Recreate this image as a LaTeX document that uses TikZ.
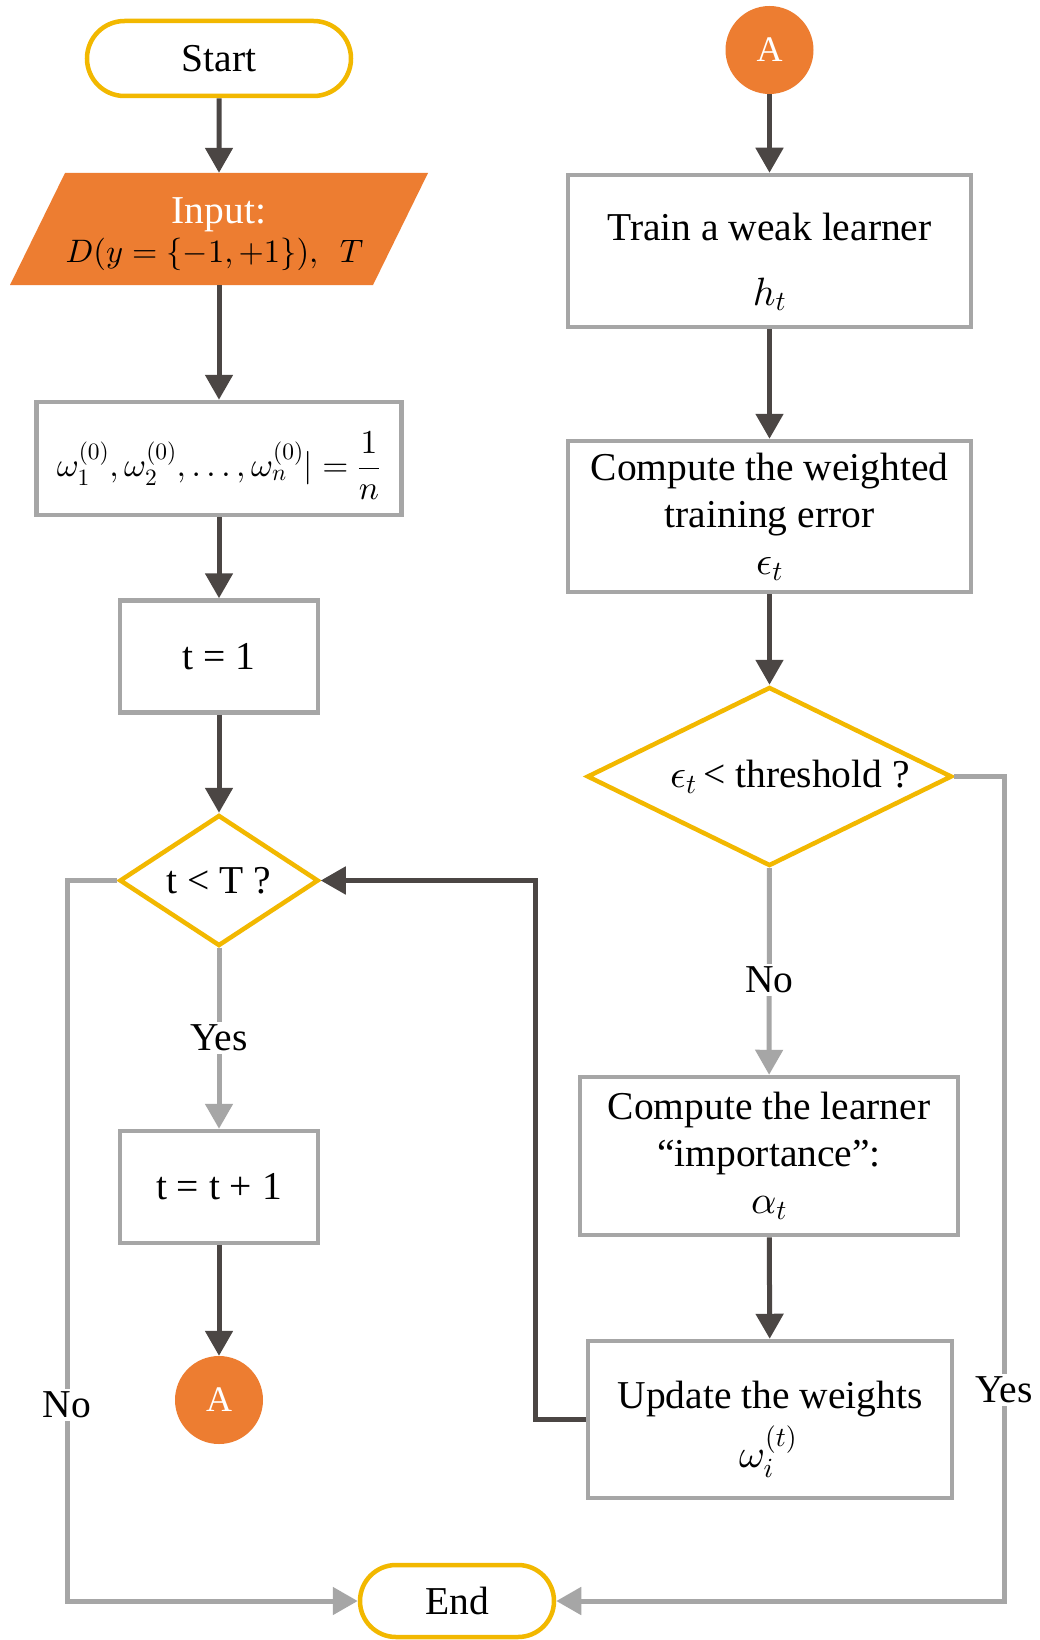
\documentclass[tikz,border=0pt]{standalone}
\usepackage{fontspec}
\setmainfont{Liberation Serif}
\DeclareFontShape{OT1}{cmr}{m}{n}{<->cmr10}{}
\DeclareFontShape{OML}{cmm}{m}{it}{<->cmmi10}{}
\DeclareFontShape{OMS}{cmsy}{m}{n}{<->cmsy10}{}
\DeclareFontShape{OMX}{cmex}{m}{n}{<->cmex10}{}
\usetikzlibrary{arrows.meta,shapes.geometric,shapes.misc}
\definecolor{dk}{HTML}{4B4644}
\definecolor{gr}{HTML}{A6A6A6}
\definecolor{gd}{HTML}{F2B800}
\definecolor{orn}{HTML}{ED7D31}
\begin{document}
\begin{tikzpicture}[x=1pt,y=-1pt,
  font=\fontsize{39.5}{47}\selectfont,
  lw/.style={line width=4.5pt},
  procbox/.style={rectangle,draw=gr,lw,fill=white,inner sep=0pt,align=center},
  term/.style={rounded rectangle,draw=gd,lw,fill=white,inner sep=0pt},
  decis/.style={diamond,draw=gd,lw,fill=white,inner sep=0pt},
  conn/.style={circle,fill=orn,text=white,inner sep=0pt,minimum size=88pt,font=\fontsize{36}{40}\selectfont},
  darr/.style={draw=dk,line width=5pt,-{Triangle[length=25pt,width=27pt]}},
  garr/.style={draw=gr,line width=5pt,-{Triangle[length=25pt,width=27pt]}},
  lab/.style={fill=white,inner sep=3pt},
  txt/.style={inner sep=0pt,align=center},
  btxt/.style={inner sep=0pt,anchor=base},
]
\useasboundingbox (0,0) rectangle (1039,1640);
\fill[white] (0,0) rectangle (1039,1640);

% left column
\node[term,minimum width=264pt,minimum height=75pt] (start) at (219,58.5) {Start};
\fill[orn] (65,173) -- (428,173) -- (373,285) -- (10,285) -- cycle;
\node[inner sep=0pt,minimum width=250pt,minimum height=112pt] (input) at (219,229) {};
\node[btxt,text=white] (inputL) at (219,223) {Input:};
\node[btxt,font=\fontsize{32.5}{40}\selectfont] (inputM) at (214.5,262) {$D(y=\{-1,+1\}),\ \ T$};
\node[procbox,minimum width=365pt,minimum height=113pt] (init) at (219,458.5) {};
\node[txt,font=\fontsize{33.5}{40}\selectfont] (initM) at (218.5,466)
  {$\omega_1^{(0)},\omega_2^{(0)},\ldots,\omega_n^{(0)}|={\displaystyle\frac{1}{n}}$};
\node[procbox,minimum width=198pt,minimum height=112pt] (t1) at (219,656.5) {t = 1};
\node[decis,minimum width=199pt,minimum height=131pt] (dec1) at (219,880.5) {};
\node[txt] (dec1t) at (219,880.5) {t < T ?};
\node[procbox,minimum width=198pt,minimum height=112pt] (inc) at (219,1187) {t = t + 1};
\node[conn] (A2) at (219,1400) {A};
\node[term,minimum width=194pt,minimum height=72pt] (end) at (457,1601) {End};

% right column
\node[conn] (A1) at (769.5,50) {A};
\node[procbox,minimum width=403pt,minimum height=152pt] (train) at (769.5,251) {};
\node[btxt] (trainL) at (769.5,240) {Train a weak learner};
\node[btxt] (trainH) at (769.5,305) {$h_t$};
\node[procbox,minimum width=403pt,minimum height=151pt] (err) at (769.5,516.5)
  {Compute the weighted\\ training error\\ $\epsilon_t$};
\node[decis,minimum width=365pt,minimum height=179pt] (dec2) at (769.5,776.5) {};
\node[txt] (dec2t) at (790,777) {$\epsilon_t$\,< threshold ?};
\node[procbox,minimum width=378pt,minimum height=158pt] (imp) at (769,1156)
  {Compute the learner\\ “importance”:\\ $\alpha_t$};
\node[procbox,minimum width=364pt,minimum height=157pt] (upd) at (770,1419.5) {};
\node[btxt] (updL) at (770,1408) {Update the weights};
\node[btxt] (updW) at (768,1467) {$\omega_i^{(t)}$};

\coordinate (lx) at (67,0);
\coordinate (rx) at (1004,0);
\coordinate (lpx) at (535,0);

% connectors
\draw[darr] (start) -- (input);
\draw[darr] (input) -- (init);
\draw[darr] (init) -- (t1);
\draw[darr] (t1) -- (dec1);
\draw[garr] (dec1) -- (inc);
\node[lab] (yes1) at (219,1038) {Yes};
\draw[darr] (inc) -- (A2);
\draw[garr] (dec1.west) -- (dec1.west -| lx) -- (lx |- end.west) -- (end.west);
\node[lab] (no1) at (67,1405) {No};
\draw[garr] (dec2.east) -- (dec2.east -| rx) -- (rx |- end.east) -- (end.east);
\node[lab] (yes2) at (1004,1390) {Yes};

\draw[darr] (A1) -- (train);
\draw[darr] (train) -- (err);
\draw[darr] (err) -- (dec2);
\draw[garr] (dec2) -- (imp);
\node[lab] (no2) at (769.5,980) {No};
\draw[darr] (imp) -- (upd);
\draw[darr] (upd.west) -- (upd.west -| lpx) -- (lpx |- dec1.east) -- (dec1.east);
\end{tikzpicture}
\end{document}
